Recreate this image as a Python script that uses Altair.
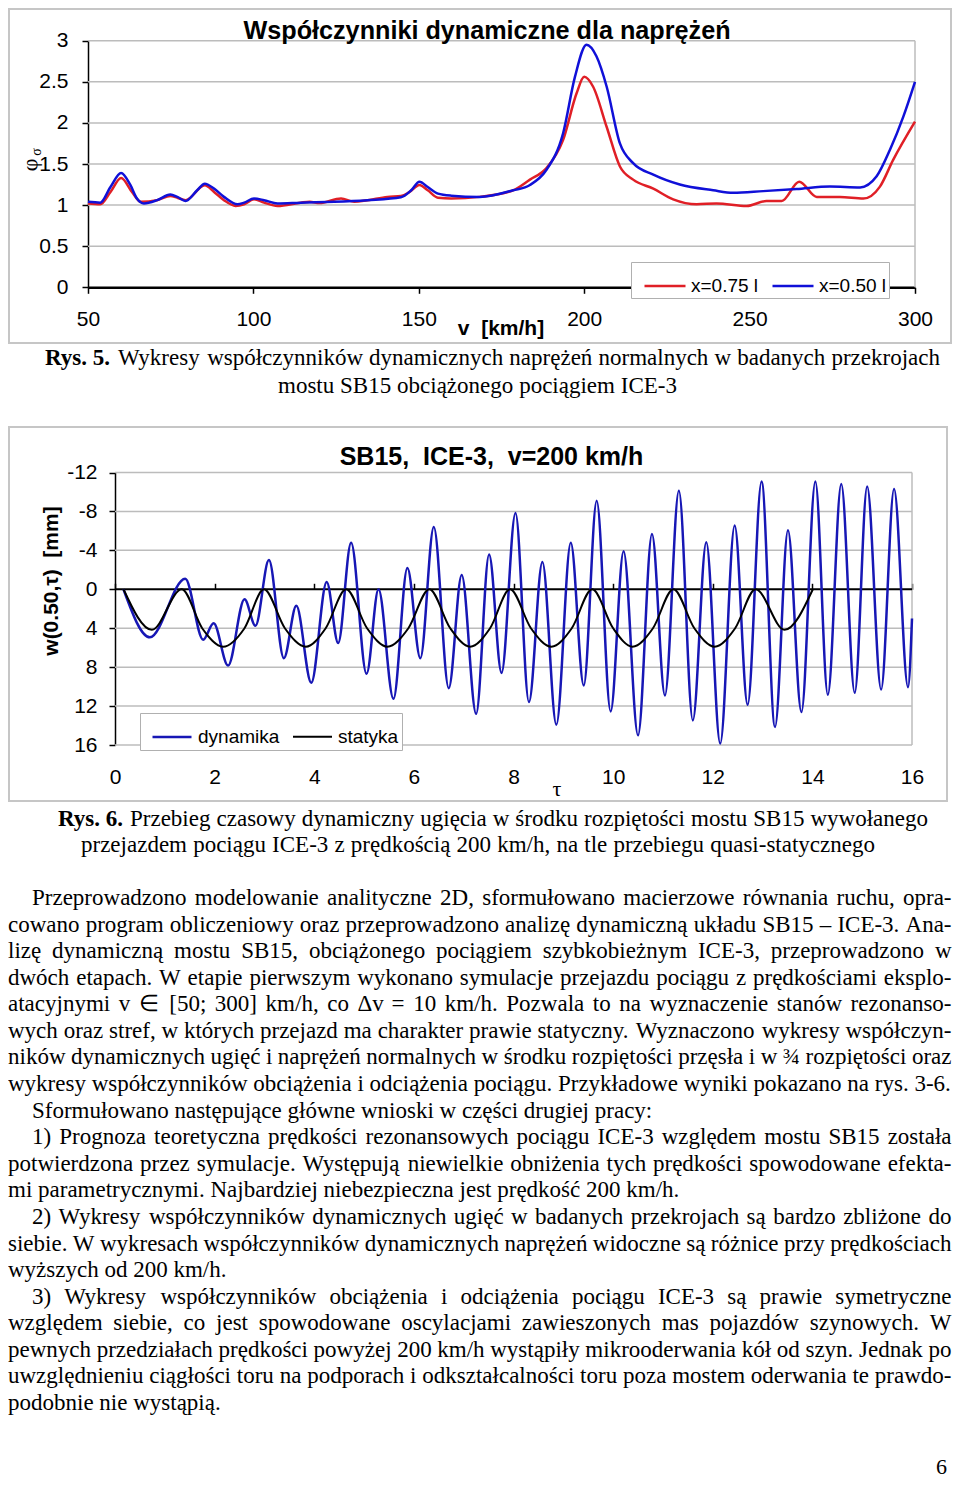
import altair as alt
import pandas as pd

# ======================= DATA : Rys. 5 =======================
SERIES5 = ["x=0.75 l", "x=0.50 l"]
V_RED = [50, 53.7, 56.8, 60, 63.3, 65.9, 70.9, 74.9, 77, 79.5,
         85.3, 88.1, 91.1, 94.6, 97.2, 100.2, 103.2, 107.3, 114.3, 117,
         120, 126.5, 130.5, 134.5, 140.5, 144.6, 147.2, 150.2, 152.7, 155.8,
         159.8, 168.4, 178.5, 183.6, 188.6, 193.6, 197.7, 200, 202.7, 206.8,
         210.8, 214.8, 220.9, 226.9, 234, 240, 249.1, 255.1, 259.7, 265,
         270.3, 277.3, 284.4, 289.4, 293.4, 300]
PHI_RED = [1.02, 1.01, 1.16, 1.33, 1.16, 1.04, 1.06, 1.11, 1.09, 1.06,
           1.24, 1.16, 1.06, 0.99, 1.01, 1.07, 1.03, 0.99, 1.03, 1.04,
           1.025, 1.08, 1.04, 1.06, 1.10, 1.11, 1.16, 1.245, 1.18, 1.09,
           1.08, 1.10, 1.18, 1.31, 1.45, 1.79, 2.36, 2.56, 2.44, 1.95,
           1.47, 1.31, 1.20, 1.07, 1.01, 1.02, 0.99, 1.05, 1.05, 1.285,
           1.10, 1.10, 1.08, 1.225, 1.55, 2.015]
V_BLUE = [50, 53.7, 56.8, 60, 62.8, 64.8, 66.9, 70.9, 74.9, 77,
          79.5, 83, 85.3, 88.1, 91.1, 95.2, 97.2, 100.2, 103.2, 107.3,
          114.3, 124.4, 134.5, 144.6, 147.7, 150.2, 152.7, 155.8, 159.8, 168.4,
          178.5, 183.6, 188.6, 193.6, 197.2, 200.7, 203.7, 206.8, 210.8, 214.8,
          220.9, 228.9, 239, 245, 254.1, 264.2, 274.3, 283.4, 288.4, 292.4,
          296.5, 300]
PHI_BLUE = [1.04, 1.03, 1.22, 1.39, 1.245, 1.08, 1.02, 1.06, 1.13, 1.10,
            1.05, 1.18, 1.26, 1.20, 1.10, 1.01, 1.03, 1.08, 1.06, 1.02,
            1.03, 1.04, 1.06, 1.095, 1.18, 1.285, 1.22, 1.14, 1.115, 1.10,
            1.18, 1.245, 1.43, 1.87, 2.56, 2.95, 2.81, 2.44, 1.75, 1.51,
            1.37, 1.25, 1.18, 1.15, 1.17, 1.195, 1.225, 1.215, 1.35, 1.67,
            2.08, 2.50]
V_TICKS = [50, 100, 150, 200, 250, 300]
PHI_TICKS = [0, 0.5, 1, 1.5, 2, 2.5, 3]

# ======================= DATA : Rys. 6 =======================
SERIES6 = ["dynamika", "statyka"]
TAU_DYN = [0.17, 0.70, 1.41, 1.77, 1.98, 2.27, 2.60, 2.82, 3.09, 3.39,
           3.64, 3.94, 4.25, 4.48, 4.74, 5.05, 5.29, 5.59, 5.87, 6.13,
           6.40, 6.70, 6.96, 7.25, 7.51, 7.76, 8.04, 8.31, 8.58, 8.86,
           9.15, 9.41, 9.67, 9.95, 10.21, 10.50, 10.78, 11.04, 11.32, 11.60,
           11.87, 12.15, 12.44, 12.70, 12.98, 13.25, 13.51, 13.78, 14.06, 14.31,
           14.58, 14.85, 15.10, 15.38, 15.64, 15.92, 16.0]
W_DYN = [0, 4.94, -1.09, 5.18, 3.5, 7.84, 1.02, 3.75, -3.0, 7.09,
         1.7, 9.6, -0.75, 5.52, -4.77, 8.69, 0, 11.25, -2.2, 7.09,
         -6.41, 10.16, -1.47, 12.79, -3.58, 8.59, -7.84, 11.59, -2.8, 13.91,
         -4.77, 9.89, -9.1, 12.55, -3.92, 15.0, -5.69, 10.91, -10.13, 13.47,
         -4.84, 15.85, -6.55, 11.87, -11.08, 14.15, -6.07, 12.62, -11.08, 10.84,
         -10.81, 10.64, -10.57, 10.3, -10.3, 10.06, 3.0]
TAU_ST = [0.17, 0.74, 1.34, 1.75, 2.17, 2.60, 2.99, 3.41, 3.83, 4.23,
          4.64, 5.06, 5.47, 5.89, 6.31, 6.73, 7.13, 7.53, 7.93, 8.35,
          8.76, 9.17, 9.58, 10.0, 10.39, 10.80, 11.21, 11.63, 12.04, 12.45,
          12.86, 13.44, 14.01]
W_ST = [0, 4.16, 0, 4.0, 5.9, 4.0, 0, 4.0, 5.9, 4.0,
        0, 4.0, 5.9, 4.0, 0, 4.0, 5.9, 4.0, 0, 4.0,
        5.9, 4.0, 0, 4.0, 5.9, 4.0, 0, 4.0, 5.9, 4.0,
        0, 4.16, 0]
TAU_TICKS = [0, 2, 4, 6, 8, 10, 12, 14, 16]
W_TICKS = [-12, -8, -4, 0, 4, 8, 12, 16]

# ======================= TEXT =======================
TITLE5 = "Współczynniki dynamiczne dla naprężeń"
XTITLE5 = "v\u00a0\u00a0[km/h]"
YTITLE5_MAIN, YTITLE5_SUB = "φ", "σ"
TITLE6 = "SB15,\u00a0\u00a0ICE-3,\u00a0\u00a0v=200 km/h"
YTITLE6 = "w(0.50,τ)\u00a0\u00a0[mm]"
XTITLE6 = "τ"
CAP5_BOLD = "Rys. 5."
CAP5 = ["Wykresy współczynników dynamicznych naprężeń normalnych w badanych przekrojach",
        "mostu SB15 obciążonego pociągiem ICE-3"]
CAP6_BOLD = "Rys. 6."
CAP6 = ["Przebieg czasowy dynamiczny ugięcia w środku rozpiętości mostu SB15 wywołanego",
        "przejazdem pociągu ICE-3 z prędkością 200 km/h, na tle przebiegu quasi-statycznego"]
PARA = [
    "Przeprowadzono modelowanie analityczne 2D, sformułowano macierzowe równania ruchu, opra-",
    "cowano program obliczeniowy oraz przeprowadzono analizę dynamiczną układu SB15 – ICE-3. Ana-",
    "lizę dynamiczną mostu SB15, obciążonego pociągiem szybkobieżnym ICE-3, przeprowadzono w",
    "dwóch etapach. W etapie pierwszym wykonano symulacje przejazdu pociągu z prędkościami eksplo-",
    "atacyjnymi v ∈ [50; 300] km/h, co Δv = 10 km/h. Pozwala to na wyznaczenie stanów rezonanso-",
    "wych oraz stref, w których przejazd ma charakter prawie statyczny. Wyznaczono wykresy współczyn-",
    "ników dynamicznych ugięć i naprężeń normalnych w środku rozpiętości przęsła i w ¾ rozpiętości oraz",
    "wykresy współczynników obciążenia i odciążenia pociągu. Przykładowe wyniki pokazano na rys. 3-6.",
    "Sformułowano następujące główne wnioski w części drugiej pracy:",
    "1) Prognoza teoretyczna prędkości rezonansowych pociągu ICE-3 względem mostu SB15 została",
    "potwierdzona przez symulacje. Występują niewielkie obniżenia tych prędkości spowodowane efekta-",
    "mi parametrycznymi. Najbardziej niebezpieczna jest prędkość 200 km/h.",
    "2) Wykresy współczynników dynamicznych ugięć w badanych przekrojach są bardzo zbliżone do",
    "siebie. W wykresach współczynników dynamicznych naprężeń widoczne są różnice przy prędkościach",
    "wyższych od 200 km/h.",
    "3) Wykresy współczynników obciążenia i odciążenia pociągu ICE-3 są prawie symetryczne",
    "względem siebie, co jest spowodowane oscylacjami zawieszonych mas pojazdów szynowych. W",
    "pewnych przedziałach prędkości powyżej 200 km/h wystąpiły mikrooderwania kół od szyn. Jednak po",
    "uwzględnieniu ciągłości toru na podporach i odkształcalności toru poza mostem oderwania te prawdo-",
    "podobnie nie wystąpią.",
]
PARA_INDENT = {0, 8, 9, 12, 15}
PARA_LAST = {7, 8, 11, 14, 19}
PAGE_NO = "6"

# ======================= LAYOUT / STYLE =======================
W, H = 944, 1472
RED, BLUE5, BLUE6 = "#e01f26", "#1010d8", "#1717b5"
GRID, FRAME = "#bcbcbc", "#c6c6c6"
SANS, SERIF = "Liberation Sans", "Liberation Serif"
FS_TXT = 23

# Times / Liberation Serif advance widths (per 1000 em)
TW = dict(zip("abcdefghijklmnopqrstuvwxyz",
              [444, 500, 444, 500, 444, 333, 500, 500, 278, 278, 500, 278, 778,
               500, 500, 500, 500, 333, 389, 278, 500, 500, 722, 500, 500, 444]))
TW.update(dict(zip("ABCDEFGHIJKLMNOPQRSTUVWXYZ",
                   [722, 667, 667, 722, 611, 556, 722, 722, 333, 389, 722, 611, 889,
                    722, 722, 556, 722, 667, 556, 611, 722, 722, 944, 722, 722, 611])))
TW.update({d: 500 for d in "0123456789"})
TW.update({" ": 250, ",": 250, ".": 250, "-": 333, "–": 500, ":": 278, ";": 278,
           "(": 333, ")": 333, "[": 333, "]": 333, "/": 278, "=": 564, "¾": 750,
           "Δ": 612, "∈": 950, "ą": 444, "ć": 444, "ę": 444, "ł": 278, "ń": 500,
           "ó": 500, "ś": 389, "ź": 444, "ż": 444})


def tw(s, fs):
    return sum(TW.get(c, 500) for c in s) * fs / 1000.0


def line_words(text, x0, x1, y, fs, justify):
    words = text.split(" ")
    widths = [tw(w, fs) for w in words]
    gap = TW[" "] * fs / 1000.0
    if justify and len(words) > 1:
        gap = max(2.0, (x1 - x0 - sum(widths)) / (len(words) - 1))
    rows, x = [], x0
    for w, wd in zip(words, widths):
        rows.append(dict(t=w, x=x, y=y, s=fs, a=0))
        x += wd + gap
    return rows


def lin(d, r):
    return alt.Scale(domain=d, range=r, nice=False, zero=False)


SX5 = lin([50, 300], [80, 907])
SY5 = lin([0, 3], [279.3, 32.7])
SX6 = lin([0, 16], [107, 904])
SY6 = lin([-12, 16], [464.5, 737])
Y0_6 = 464.5 + 12 / 28 * (737 - 464.5)

AXC = dict(grid=False, title=None, domainColor="black", tickColor="black",
           labelColor="black", labelFont=SANS, labelFontSize=21,
           labelOverlap=False, labelFlush=False, labelBound=False)


def frame(x0, y0, x1, y1):
    return alt.Chart(pd.DataFrame({"x0": [x0], "x1": [x1], "y0": [y0], "y1": [y1]})).mark_rect(
        fillOpacity=0, stroke=FRAME, strokeWidth=2).encode(
        x=alt.X("x0:Q", scale=None, axis=None), x2="x1",
        y=alt.Y("y0:Q", scale=None, axis=None), y2="y1")


def rules(df, sx, sy, color, width, xaxis=None):
    return alt.Chart(df).mark_rule(color=color, strokeWidth=width).encode(
        x=alt.X("x0:Q", scale=sx, axis=xaxis), x2="x1",
        y=alt.Y("y0:Q", scale=sy, axis=None), y2="y1")


def text_layer(rows, font, weight="normal", align="left", baseline="alphabetic"):
    return alt.Chart(pd.DataFrame(rows)).mark_text(
        font=font, fontWeight=weight, align=align, baseline=baseline, color="black").encode(
        x=alt.X("x:Q", scale=None, axis=None), y=alt.Y("y:Q", scale=None, axis=None),
        text="t:N", size=alt.Size("s:Q", scale=None, legend=None),
        angle=alt.Angle("a:Q", scale=None, legend=None))


# ---------------- Rys. 5 ----------------
g5 = [dict(x0=50, x1=300, y0=g, y1=g) for g in PHI_TICKS[1:]] + [dict(x0=300, x1=300, y0=0, y1=3)]
grid5 = rules(pd.DataFrame(g5), SX5, SY5, GRID, 1.5)

df5 = pd.DataFrame({"v": V_RED + V_BLUE, "phi": PHI_RED + PHI_BLUE,
                    "s": [SERIES5[0]] * len(V_RED) + [SERIES5[1]] * len(V_BLUE)})
lines5 = alt.Chart(df5).mark_line(strokeWidth=2.5, interpolate="monotone").encode(
    x=alt.X("v:Q", scale=SX5, axis=alt.Axis(orient="bottom", offset=279.3 - H, values=V_TICKS,
                                            domainWidth=2.5, tickWidth=1.5, tickSize=6,
                                            labelPadding=26, labelBaseline="middle", **AXC)),
    y=alt.Y("phi:Q", scale=SY5, axis=alt.Axis(orient="left", offset=-80, values=PHI_TICKS,
                                              format="~g", domainWidth=1.5, tickWidth=1.5,
                                              tickSize=6, labelPadding=14,
                                              labelBaseline="middle", **AXC)),
    color=alt.Color("s:N", scale=alt.Scale(domain=SERIES5, range=[RED, BLUE5]),
                    legend=alt.Legend(orient="none", legendX=623, legendY=254,
                                      direction="horizontal", title=None,
                                      symbolType="stroke", symbolSize=41 * 41,
                                      symbolStrokeWidth=2.5, labelFont=SANS,
                                      labelFontSize=19, labelColor="black",
                                      fillColor="white", strokeColor="#b0b0b0",
                                      padding=2, symbolOffset=10, labelOffset=4,
                                      columnPadding=2, labelLimit=300)),
)

# ---------------- Rys. 6 ----------------
g6 = [dict(x0=0, x1=16, y0=g, y1=g) for g in W_TICKS if g != 0] + [dict(x0=16, x1=16, y0=-12, y1=16)]
grid6 = rules(pd.DataFrame(g6), SX6, SY6, GRID, 1.5,
              xaxis=alt.Axis(orient="bottom", offset=737 - H, values=TAU_TICKS, domain=False,
                             ticks=False, tickSize=0, labelPadding=32, labelBaseline="middle", **AXC))
zero6 = rules(pd.DataFrame([dict(x0=0, x1=16, y0=0, y1=0)]), SX6, SY6, "black", 2,
              xaxis=alt.Axis(orient="top", offset=-Y0_6, values=TAU_TICKS, labels=False,
                             domain=False, tickSize=6, tickWidth=1.5, **AXC))

df6 = pd.DataFrame({"t": TAU_DYN + TAU_ST, "w": W_DYN + W_ST,
                    "s": [SERIES6[0]] * len(TAU_DYN) + [SERIES6[1]] * len(TAU_ST)})
lines6 = alt.Chart(df6).mark_line(interpolate="monotone").encode(
    x=alt.X("t:Q", scale=SX6, axis=None),
    y=alt.Y("w:Q", scale=SY6, axis=alt.Axis(orient="left", offset=-107, values=W_TICKS,
                                            labelExpr="'' + datum.value", domainWidth=1.5,
                                            tickWidth=1.5, tickSize=6, labelPadding=12,
                                            labelBaseline="middle", **AXC)),
    color=alt.Color("s:N", scale=alt.Scale(domain=SERIES6, range=[BLUE6, "black"]),
                    legend=alt.Legend(orient="none", legendX=132, legendY=705,
                                      direction="horizontal", title=None,
                                      symbolType="stroke", symbolSize=39 * 39,
                                      symbolStrokeWidth=2.5, labelFont=SANS,
                                      labelFontSize=19, labelColor="black",
                                      fillColor="white", strokeColor="#b0b0b0",
                                      padding=3, symbolOffset=8, labelOffset=5,
                                      columnPadding=4, labelLimit=300)),
    strokeWidth=alt.StrokeWidth("s:N", scale=alt.Scale(domain=SERIES6, range=[2.5, 2]), legend=None),
)

# ---------------- texts ----------------
sans_bold_c = text_layer([
    dict(t=TITLE5, x=479, y=31, s=25.2, a=0),
    dict(t=TITLE6, x=483.5, y=457, s=25, a=0),
    dict(t=XTITLE5, x=493, y=327, s=21, a=0),
], SANS, "bold", "center")
sans_bold_rot = text_layer([dict(t=YTITLE6, x=44, y=573, s=21, a=270)], SANS, "bold", "center", "middle")
sym_rot = text_layer([dict(t=YTITLE5_MAIN, x=22, y=157, s=22, a=270),
                      dict(t=YTITLE5_SUB, x=29, y=144, s=14, a=270)], SERIF, "normal", "center", "middle")
tau_lbl = text_layer([dict(t=XTITLE6, x=549, y=781, s=22, a=0)], SERIF, "normal", "center", "middle")

serif_bold = text_layer([dict(t=CAP5_BOLD, x=37, y=357, s=FS_TXT, a=0),
                         dict(t=CAP6_BOLD, x=50, y=818, s=FS_TXT, a=0)], SERIF, "bold")

words = []
words += line_words(CAP5[0], 110, 932, 357, FS_TXT, True)
words += line_words(CAP5[1], 270, 669, 385, FS_TXT, True)
words += line_words(CAP6[0], 122, 920, 818, FS_TXT, True)
words += line_words(CAP6[1], 73, 867, 844, FS_TXT, True)
for i, ln in enumerate(PARA):
    x0 = 24 if i in PARA_INDENT else 0
    words += line_words(ln, x0, 943.5, 897 + 26.58 * i, FS_TXT, i not in PARA_LAST)
serif_words = text_layer(words, SERIF)
page_no = text_layer([dict(t=PAGE_NO, x=939, y=1466, s=22, a=0)], SERIF, "normal", "right")

chart = alt.layer(
    frame(1, 1, 943, 335), frame(1, 419, 939, 793),
    grid5, lines5, grid6, zero6, lines6,
    sans_bold_c, sans_bold_rot, sym_rot, tau_lbl, serif_bold, serif_words, page_no,
).resolve_scale(
    x="independent", y="independent", color="independent", strokeWidth="independent"
).properties(
    width=W, height=H, padding=0, autosize=alt.AutoSizeParams(type="none"),
    background="white",
).configure_view(stroke=None)

chart.save("out.html", embed_options={"renderer": "svg", "actions": False})
